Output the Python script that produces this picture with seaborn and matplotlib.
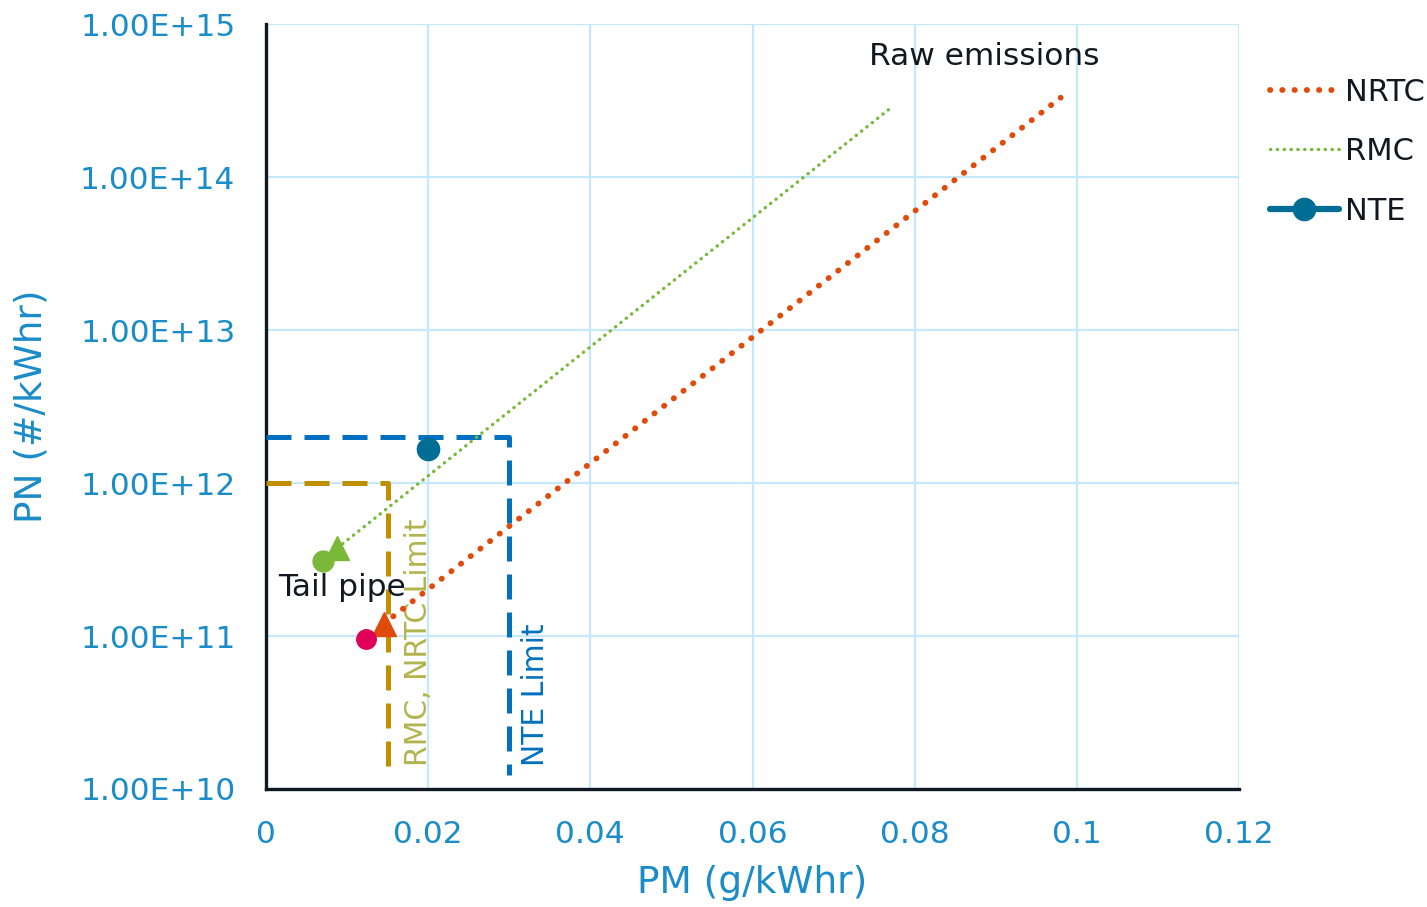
import matplotlib
matplotlib.use("Agg")
import matplotlib.pyplot as plt
import seaborn as sns
import numpy as np
import pandas as pd
from matplotlib.ticker import FuncFormatter, FixedLocator

# ---- data ----
nrtc_pm = [0.0145, 0.098]
nrtc_pn = [1.2e11, 3.3e14]
rmc_pm = [0.0088, 0.0773]
rmc_pn = [3.76e11, 2.9e14]
nte_pm = [0.020]
nte_pn = [1.67e12]
tail_circle_pm = [0.0070, 0.0123]
tail_circle_pn = [3.09e11, 9.55e10]
rmc_limit_pm = [0.0, 0.015, 0.015]
rmc_limit_pn = [1e12, 1e12, 1.18e10]
nte_limit_pm = [0.0, 0.030, 0.030]
nte_limit_pn = [2e12, 2e12, 1.23e10]
x_ticks = [0, 0.02, 0.04, 0.06, 0.08, 0.10, 0.12]
y_ticks = [1e10, 1e11, 1e12, 1e13, 1e14, 1e15]

# ---- colours ----
c_nrtc = "#e04a0a"
c_rmc = "#7ab83a"
c_nte = "#006e94"
c_pink = "#e0005a"
c_gold = "#c09000"
c_blue = "#0070c0"
c_olive = "#b3b44e"
c_tick = "#1a8cc8"

sns.set_theme(style="white")
plt.rcParams["font.family"] = ["DejaVu Sans"]

fig = plt.figure(figsize=(14.27, 9.07), dpi=100)
ax = fig.add_axes([0.1864, 0.1301, 0.8683 - 0.1864, 0.9735 - 0.1301])
ax.set_yscale("log")

# limit boxes
ax.plot(rmc_limit_pm, rmc_limit_pn, color=c_gold, lw=3.6, ls=(0, (5, 2.6)), zorder=3)
ax.plot(nte_limit_pm, nte_limit_pn, color=c_blue, lw=3.6, ls=(0, (5, 2.6)), zorder=3)

# series lines
df_nrtc = pd.DataFrame({"PM": nrtc_pm, "PN": nrtc_pn})
df_rmc = pd.DataFrame({"PM": rmc_pm, "PN": rmc_pn})
sns.lineplot(data=df_nrtc, x="PM", y="PN", ax=ax, color=c_nrtc, lw=4.2,
             label="NRTC", zorder=4)
sns.lineplot(data=df_rmc, x="PM", y="PN", ax=ax, color=c_rmc, lw=2.4,
             label="RMC", zorder=4)
lines = ax.get_lines()
nrtc_line, rmc_line = lines[-2], lines[-1]
nrtc_line.set_linestyle((0, (0.05, 2.05)))
nrtc_line.set_dash_capstyle("round")
rmc_line.set_linestyle((0, (0.1, 1.95)))
rmc_line.set_dash_capstyle("round")

# tail pipe triangles
ax.plot([rmc_pm[0]], [rmc_pn[0]], marker="^", ms=17, color=c_rmc, ls="none", zorder=5)
ax.plot([nrtc_pm[0]], [nrtc_pn[0]], marker="^", ms=17, color=c_nrtc, ls="none", zorder=5)
# tail pipe circles
ax.plot([tail_circle_pm[0]], [tail_circle_pn[0]], marker="o", ms=15, color=c_rmc, ls="none", zorder=5)
ax.plot([tail_circle_pm[1]], [tail_circle_pn[1]], marker="o", ms=14, color=c_pink, ls="none", zorder=5)

# NTE point
nte_handle, = ax.plot(nte_pm, nte_pn, marker="o", ms=16, color=c_nte, lw=4.5, ls="-",
                      label="NTE", zorder=6)

# axes
ax.set_xlim(0, 0.12)
ax.set_ylim(1e10, 1e15)
ax.xaxis.set_major_locator(FixedLocator(x_ticks))
ax.yaxis.set_major_locator(FixedLocator(y_ticks))
ax.yaxis.set_minor_locator(FixedLocator([]))
ax.xaxis.set_major_formatter(FuncFormatter(lambda v, p: f"{v:g}"))
ax.yaxis.set_major_formatter(FuncFormatter(lambda v, p: f"{v:.2E}"))
ax.grid(True, which="major", color="#c5e9fa", lw=1.6, zorder=0)
ax.set_axisbelow(True)
for s in ["top", "right"]:
    ax.spines[s].set_visible(False)
for s in ["left", "bottom"]:
    ax.spines[s].set_color("#0d1a26")
    ax.spines[s].set_linewidth(2.4)
ax.tick_params(axis="both", length=0, colors=c_tick, labelsize=22.5)
ax.tick_params(axis="y", pad=22)
ax.tick_params(axis="x", pad=22)

ax.set_xlabel("PM (g/kWhr)", color=c_tick, fontsize=27, labelpad=12)
ax.set_ylabel("PN (#/kWhr)", color=c_tick, fontsize=27, labelpad=22)

# annotations
ax.text(0.0744, 6.1e14, "Raw emissions", fontsize=22.5, color="#111820", va="center", ha="left")
ax.text(0.00148, 2.09e11, "Tail pipe", fontsize=22.5, color="#111820", va="center", ha="left")
ax.text(0.01875, 1.42e10, "RMC, NRTC Limit", fontsize=21.5, color=c_olive,
        rotation=90, ha="center", va="bottom")
ax.text(0.0332, 1.42e10, "NTE Limit", fontsize=21.5, color=c_blue,
        rotation=90, ha="center", va="bottom")

# legend
leg = ax.legend(handles=[nrtc_line, rmc_line, nte_handle], labels=["NRTC", "RMC", "NTE"],
                loc="upper left", bbox_to_anchor=(1.0, 0.97), frameon=False,
                fontsize=22, handlelength=2.28, labelspacing=1.0, handletextpad=0.2,
                borderaxespad=0.6)
for t in leg.get_texts():
    t.set_color("#111820")

fig.savefig("out.png", dpi=100)
